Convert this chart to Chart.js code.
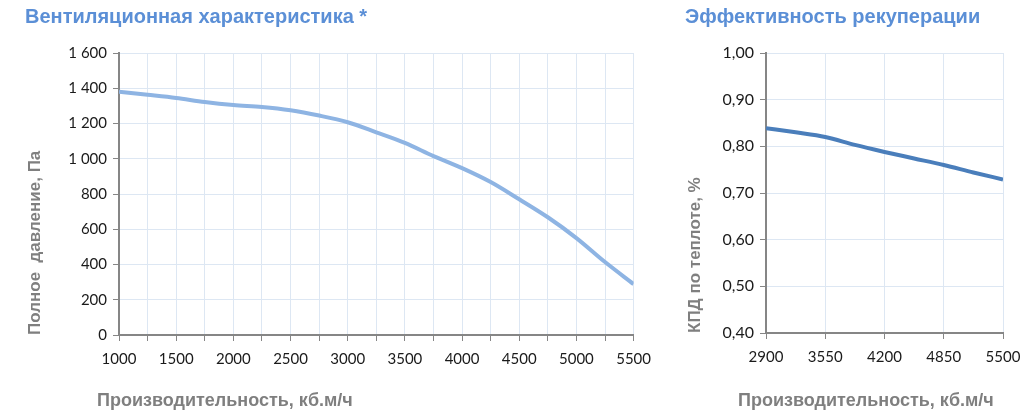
<!DOCTYPE html>
<html>
<head>
<meta charset="utf-8">
<script src="https://cdn.jsdelivr.net/npm/chart.js@4"></script>
<style>
  body { margin: 0; background: #fff; width: 1030px; height: 413px; overflow: hidden; }
  .box { position: absolute; top: 0; height: 413px; }
  .podpis { position: absolute; top: 389px; font: bold 18px "Liberation Sans"; color: #7f7f7f; white-space: nowrap; line-height: 22px; }
</style>
</head>
<body>
<div class="box" style="left:0;width:660px"><canvas id="grafVent" width="660" height="413"></canvas></div>
<div class="box" style="left:660px;width:370px"><canvas id="grafRek" width="370" height="413"></canvas></div>
<div class="podpis" style="left:97px">Производительность, кб.м/ч</div>
<div class="podpis" style="left:738px">Производительность, кб.м/ч</div>
<script>
// вентиляционная характеристика
let raskhod = [1000, 1250, 1500, 1750, 2000, 2250, 2500, 2750, 3000, 3250, 3500, 3750, 4000, 4250, 4500, 4750, 5000, 5250, 5500];
let davlenie = [1380, 1363, 1345, 1322, 1305, 1294, 1275, 1245, 1207, 1150, 1090, 1015, 947, 868, 770, 668, 550, 414, 289];

// эффективность рекуперации
let raskhodRek = [2900, 3225, 3550, 3875, 4200, 4525, 4850, 5175, 5500];
let kpd = [0.839, 0.830, 0.820, 0.803, 0.788, 0.774, 0.760, 0.744, 0.729];

let cvetTitul = "#5b8fd6";
let cvetOs = "#868686";
let cvetSetka = "#dde7f3";
let cvetPodpis = "#7f7f7f";

function tochki(xs, ys) {
    return xs.map((x, i) => ({ x: x, y: ys[i] }));
}

function probel(v) {
    return String(v).replace(/\B(?=(\d{3})+(?!\d))/g, " ");
}

// ось X (подпись оси — отдельным div, как в оригинале она сдвинута влево)
function osX(min, max, shag, vysota, filtr) {
    return {
        type: "linear", min: min, max: max,
        afterFit: s => { s.height = vysota; },
        border: { color: cvetOs, width: 2 },
        grid: { color: cvetSetka, tickColor: cvetOs, tickLength: 6, lineWidth: 1 },
        ticks: {
            stepSize: shag, autoSkip: false, maxRotation: 0, padding: 9,
            color: "#1a1a1a", font: { family: "Lato", size: 15 },
            callback: filtr
        },
        title: { display: false }
    };
}

function osY(min, max, shag, shirina, tekst, format, razmer) {
    return {
        min: min, max: max,
        afterFit: s => { s.width = shirina; },
        border: { color: cvetOs, width: 2 },
        grid: { color: cvetSetka, tickColor: cvetOs, tickLength: 6, lineWidth: 1 },
        ticks: {
            stepSize: shag, padding: 6, color: "#1a1a1a",
            font: { family: "Lato", size: razmer },
            callback: format
        },
        title: {
            display: true, text: tekst, align: "start", color: cvetPodpis,
            font: { family: "Liberation Sans", size: 17, weight: "bold" },
            padding: { top: 0, bottom: 0 }
        }
    };
}

function titul(tekst) {
    return {
        display: true, text: tekst, align: "start", color: cvetTitul,
        font: { family: "Liberation Sans", size: 20, weight: "bold" },
        padding: { top: 5, bottom: 24 }
    };
}

new Chart(document.getElementById("grafVent"), {
    type: "line",
    data: {
        datasets: [{
            data: tochki(raskhod, davlenie),
            borderColor: "#8eb4e3", borderWidth: 4,
            pointRadius: 0, cubicInterpolationMode: "monotone"
        }]
    },
    options: {
        responsive: false, animation: false,
        layout: { padding: { left: 25, right: 17, top: 0, bottom: 0 } },
        plugins: { legend: { display: false }, tooltip: { enabled: false }, title: titul("Вентиляционная характеристика *") },
        scales: {
            x: osX(1000, 5500, 250, 78, v => (v % 500 === 0 ? String(v) : "")),
            y: osY(0, 1600, 200, 94, "Полное  давление, Па", v => probel(v), 15)
        }
    }
});

new Chart(document.getElementById("grafRek"), {
    type: "line",
    data: {
        datasets: [{
            data: tochki(raskhodRek, kpd),
            borderColor: "#4a7ebb", borderWidth: 4,
            pointRadius: 0, cubicInterpolationMode: "monotone"
        }]
    },
    options: {
        responsive: false, animation: false,
        layout: { padding: { left: 25, right: 27, top: 0, bottom: 0 } },
        plugins: { legend: { display: false }, tooltip: { enabled: false }, title: titul("Эффективность рекуперации") },
        scales: {
            x: osX(2900, 5500, 650, 80, v => String(v)),
            y: osY(0.4, 1.0, 0.1, 81, "КПД по теплоте, %", v => v.toFixed(2).replace(".", ","), 16)
        }
    }
});
</script>
</body>
</html>
